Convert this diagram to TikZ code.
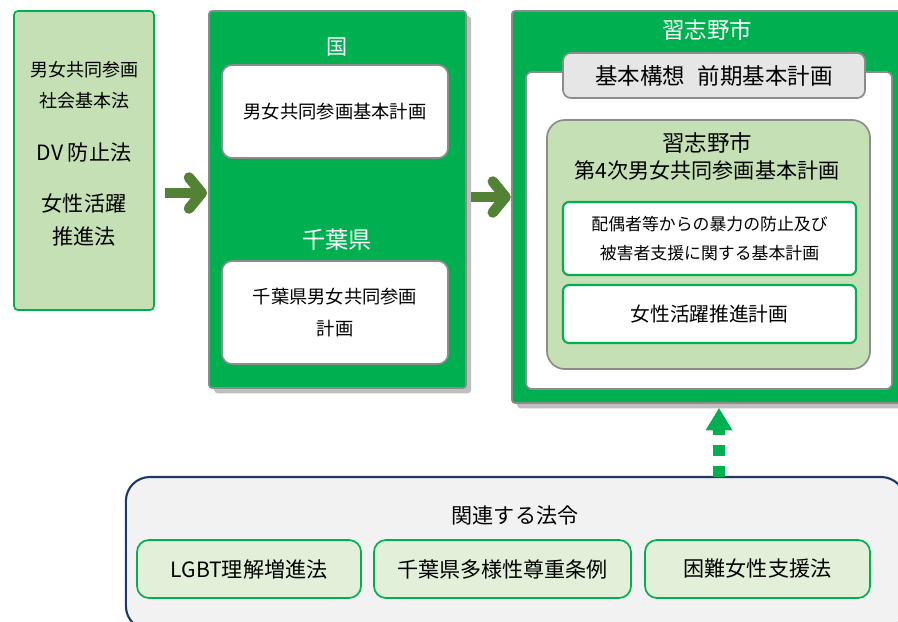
\documentclass[tikz,border=0pt]{standalone}
\usepackage{fontspec}
\setmainfont{Noto Sans CJK JP}
\usetikzlibrary{arrows.meta,shadows}

\definecolor{mygreen}{HTML}{00B050}
\definecolor{lightgreen}{HTML}{C5E0B4}
\definecolor{palegreen}{HTML}{E2F0D9}
\definecolor{arrowgreen}{HTML}{548235}
\definecolor{linegray}{HTML}{8C8C8C}
\definecolor{shadowgray}{HTML}{BFBFBF}
\definecolor{headgray}{HTML}{E7E6E6}
\definecolor{relfill}{HTML}{F2F2F2}
\definecolor{framenavy}{HTML}{1F3864}

\newcommand{\fs}[1]{\fontsize{#1}{1.55\dimexpr#1pt\relax}\selectfont}

\begin{document}
\begin{tikzpicture}[x=0.025cm,y=-0.025cm,
  every node/.style={inner sep=0pt,outer sep=0pt},
  lawbox/.style={draw=mygreen,fill=lightgreen,line width=1.2pt,rounded corners=0.1cm},
  greenframe/.style={fill=mygreen,draw=linegray,line width=1.2pt,rounded corners=0.08cm,
    copy shadow={shadow xshift=0.13cm,shadow yshift=-0.13cm,fill=shadowgray,draw=none}},
  whitebox/.style={fill=white,draw=linegray,line width=1.2pt,rounded corners=0.25cm,align=center},
  planbox/.style={fill=white,draw=mygreen,line width=1.5pt,rounded corners=0.15cm,align=center},
  subbox/.style={fill=palegreen,draw=mygreen,line width=1.2pt,rounded corners=0.3cm,align=center},
  title/.style={text=white,font=\fs{16}},
  fatarrow/.style={draw=arrowgreen,line width=7.5pt,-{Straight Barb[round,length=9pt,width=22pt]}},
  linkarrow/.style={draw=mygreen,line width=9pt,dash pattern=on 8pt off 7pt,
    -{Triangle[length=16pt,width=18pt]}}]
\useasboundingbox (0,0) rectangle (898,621);
\clip (0,0) rectangle (898,621);

% laws
\node[lawbox,minimum width=3.5cm,minimum height=7.475cm] (law) at (84,160.5) {};
\node[font=\fs{12.8}] (law1) at (84,70) {男女共同参画};
\node[font=\fs{12.8}] (law2) at (84,101) {社会基本法};
\node[font=\fs{15}] (law3) at (84,152) {DV 防止法};
\node[font=\fs{15}] (law4) at (84,204) {女性活躍};
\node[font=\fs{15}] (law5) at (84,236) {推進法};

% country and prefecture
\node[greenframe,minimum width=6.425cm,minimum height=9.425cm] (kuni) at (337.5,199.5) {};
\node[title,font=\fs{15}] (kunititle) at (337,47) {国};
\node[whitebox,minimum width=5.65cm,minimum height=2.325cm,font=\fs{13}] (kuniplan) at (335,111.5) {男女共同参画基本計画};
\node[title,font=\fs{16.5}] (kentitle) at (337,240) {千葉県};
\node[whitebox,minimum width=5.65cm,minimum height=2.575cm,font=\fs{13}] (kenplan) at (335,312.5) {千葉県男女共同参画\\[3pt]計画};

% city
\node[greenframe,minimum width=9.825cm,minimum height=9.8cm] (city) at (708.5,207) {};
\node[title] (citytitle) at (707,30) {習志野市};
\node[whitebox,rounded corners=0.15cm,minimum width=9.15cm,minimum height=7.925cm] (cityin) at (709,230.5) {};
\node[whitebox,fill=headgray,rounded corners=0.2cm,minimum width=7.55cm,minimum height=1.125cm,font=\fs{16}] (basic) at (714,75.5) {基本構想\hspace{0.55em}前期基本計画};
\node[whitebox,fill=lightgreen,rounded corners=0.45cm,minimum width=8.075cm,minimum height=6.225cm] (plan) at (708.5,244.5) {};
\node[font=\fs{16}] (plan1) at (707,143) {習志野市};
\node[font=\fs{15}] (plan2) at (707,170) {第4次男女共同参画基本計画};
\node[planbox,minimum width=7.325cm,minimum height=1.825cm,font=\fs{12}] (dvplan) at (709.5,238.5) {配偶者等からの暴力の防止及び\\[2pt]被害者支援に関する基本計画};
\node[planbox,minimum width=7.325cm,minimum height=1.45cm,font=\fs{14}] (womenplan) at (709.5,314) {女性活躍推進計画};

% related laws
\node[draw=framenavy,fill=relfill,line width=1.5pt,rounded corners=0.6cm,minimum width=19.475cm,minimum height=3.825cm] (related) at (515.5,553.5) {};
\node[font=\fs{15}] (reltitle) at (515,515) {関連する法令};
\node[subbox,minimum width=5.6cm,minimum height=1.45cm,font=\fs{15}] (lgbt) at (249,569) {LGBT理解増進法};
\node[subbox,minimum width=6.425cm,minimum height=1.45cm,font=\fs{15}] (diverse) at (502.5,569) {千葉県多様性尊重条例};
\node[subbox,minimum width=5.625cm,minimum height=1.45cm,font=\fs{15}] (support) at (757.5,569) {困難女性支援法};

% arrows
\coordinate (row1) at (0,193);
\coordinate (row2) at (0,197);
\coordinate (col) at (719,0);
\draw[fatarrow,shorten <=0.27cm,shorten >=0.05cm] (law.east |- row1) -- (kuni.west |- row1);
\draw[fatarrow,shorten <=0.12cm,shorten >=0.03cm] (kuni.east |- row2) -- (city.west |- row2);
\draw[linkarrow,shorten >=0.12cm] (related.north -| col) -- (city.south -| col);
\end{tikzpicture}
\end{document}
